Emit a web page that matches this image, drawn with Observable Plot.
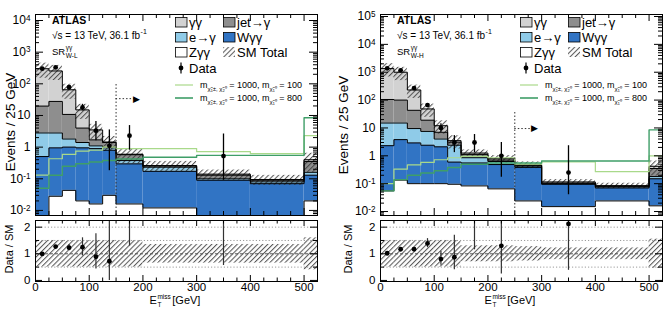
<!DOCTYPE html>
<html><head><meta charset="utf-8">
<script src="https://cdn.jsdelivr.net/npm/d3@7"></script>
<script src="https://cdn.jsdelivr.net/npm/@observablehq/plot@0.6"></script>
<style>
html,body{margin:0;padding:0;background:#fff;}
#root{position:relative;width:664px;height:312px;overflow:hidden;font-family:"Liberation Sans",Arial,Helvetica,sans-serif;}
</style></head><body>
<svg width="0" height="0" style="position:absolute;left:0;top:0">
<defs>
<pattern id="hatch" patternUnits="userSpaceOnUse" width="3.6" height="3.6" patternTransform="rotate(45)">
<line x1="0.6" y1="0" x2="0.6" y2="3.6" stroke="#3a3a3a" stroke-width="0.9"/>
</pattern>
</defs></svg>
<div id="root"></div>
<script>
// ---------------- DATA ----------------
// Left panel: SR W-L
const edgesL = [0,25,50,75,100,125,150,200,300,400,500,525];
const zggL = [0.004,0.028,0.043,0.02,0.016,0.03,0.016,0.012,0.004,0.004,0.02];
const wggL = [0.5,0.92,0.96,0.93,0.88,0.77,0.28,0.16,0.086,0.066,0.11];
const egL  = [2.3,1.85,0.8,0.45,0.2,0.15,0.08,0.06,0.01,0.01,0.03];
const jetL = [17,25,9,2.6,0.6,0.45,0.2,0.02,0.03,0.01,0.19];
const ggL  = [280,227,54,11,1.8,0.05,0.02,0.01,0.01,0.005,0.05];
const uncL = [0.5,0.5,0.5,0.5,0.5,0.5,0.5,0.35,0.35,0.35,0.6];
const sig100L = [0.13,0.43,0.59,0.75,0.8,1.0,0.9,0.9,0.72,0.62,2.3];
const sig800L = [0.05,0.13,0.25,0.3,0.34,0.38,0.42,0.48,0.55,0.55,8.5];
const dataXL  = [12.5,37.5,62.5,87.5,112.5,137.5,175,350];
const dataYL  = [300,330,78,18,3.3,1.1,2.3,0.52];
const dataLoL = [285,313,70,14,1.6,0.18,0.8,0.09];
const dataHiL = [316,347,87,22.5,6.5,3.5,4.8,2.6];
const ratioYL  = [1.0,1.27,1.23,1.25,0.89,0.72,3.5,3.7];
const ratioLoL = [0.96,1.23,1.11,0.92,0.43,0.0,1.29,0.56];
const ratioHiL = [1.04,1.31,1.35,1.6,1.75,2.5,8,15];

// Right panel: SR W-H
const edgesR = [0,25,50,75,100,125,150,200,250,300,400,500,525];
const zggR = [0.055,0.134,0.1,0.1,0.1,0.095,0.083,0.065,0.024,0.015,0.024,0.016];
const wggR = [2.25,3.67,2.8,2.3,2.0,0.5,0.47,0.42,0.36,0.08,0.046,0.134];
const egR  = [12.7,11.2,6.6,5.1,1.9,1.8,0.3,0.14,0.04,0.005,0.006,0.03];
const jetR = [90,85,33.5,11.5,3,0.7,0.25,0.08,0.03,0.005,0.004,0.17];
const ggR  = [1245,900,187,29,5,0.4,0.15,0.08,0.02,0.01,0.005,0.07];
const uncR = [0.5,0.5,0.5,0.5,0.5,0.5,0.3,0.3,0.27,0.22,0.22,0.55];
const sig100R = [0.1,0.33,0.47,0.58,0.72,0.85,0.95,0.85,0.5,0.6,0.27,1.0];
const sig800R = [0.055,0.14,0.2,0.24,0.29,0.38,0.5,0.55,0.55,0.65,0.65,8.5];
const dataXR  = [12.5,37.5,62.5,87.5,112.5,137.5,175,225,350];
const dataYR  = [1380,1170,270,66,10,3.0,3.0,1.0,0.25];
const dataLoR = [1340,1130,255,58,7,1.3,1.3,0.17,0.04];
const dataHiR = [1420,1210,285,74,14,5.3,5.8,3.0,2.3];
const ratioYR  = [1.02,1.17,1.17,1.39,0.8,0.87,2.4,1.3,2.12];
const ratioLoR = [1.0,1.14,1.12,1.23,0.57,0.4,1.15,0.24,0.38];
const ratioHiR = [1.04,1.2,1.22,1.57,1.1,1.7,5,3.5,8];

// Labels
const compLabels = ["Zγγ","Wγγ","e→γ","jet→γ","γγ"];
const xTickLabels = [0,100,200,300,400,500];
const ratioTickLabels = [0,1,2];
const regionL = "W-L", regionR = "W-H";

// ---------------- STYLE ----------------
const FF = '"Liberation Sans", Arial, Helvetica, sans-serif';
const C = {zgg:"#ffffff", wgg:"#3174c4", eg:"#8fcbe8", jet:"#8e8e8e", gg:"#d2d2d2", s100:"#a9d98a", s800:"#3f9e68"};
const root = document.getElementById("root");

function steps(edges, vals){ const p = vals.map((v,i)=>({x:edges[i], y:v})); p.push({x:edges[edges.length-1], y:vals[vals.length-1]}); return p; }
function place(svg, left, top){ svg.style.position="absolute"; svg.style.left=left+"px"; svg.style.top=top+"px"; root.appendChild(svg); }
function supify(svg){
  d3.select(svg).selectAll("text").each(function(){
    const s = this.textContent;
    if (this.children.length === 0 && s.includes("^")) {
      const [b,e] = s.split("^");
      const sel = d3.select(this); sel.text(b);
      sel.append("tspan").attr("dy","-0.45em").attr("font-size","0.68em").text(e);
    }
  });
}
const fmtPow = d => d===1 ? "1" : d===10 ? "10" : "10^" + Math.round(Math.log10(d));

function mainPanel(p){
  const W = 332, H = 216, mt = 14, mb = 1;
  const fw = W - p.ml - p.mr, fh = H - mt - mb;
  const n = p.edges.length - 1;
  const cum = new Array(n).fill(0);
  const comps = [{v:p.zgg,c:C.zgg},{v:p.wgg,c:C.wgg},{v:p.eg,c:C.eg},{v:p.jet,c:C.jet},{v:p.gg,c:C.gg}];
  const fills = [], lines = [];
  comps.forEach(cp => {
    const prev = cum.slice();
    cp.v.forEach((v,i)=>{cum[i]+=v;});
    const cur = cum.slice();
    fills.push(Plot.rect(cur.map((v,i)=>({x1:p.edges[i],x2:p.edges[i+1],y1:Math.max(prev[i],p.ymin*0.5),y2:v})),
      {x1:"x1",x2:"x2",y1:"y1",y2:"y2",fill:cp.c,clip:true}));
    lines.push(Plot.line(steps(p.edges,cur),{x:"x",y:"y",curve:"step-after",stroke:"black",strokeWidth:1,clip:true}));
  });
  const band = cum.map((t,i)=>({x1:p.edges[i],x2:p.edges[i+1],y1:t*(1-p.unc[i]),y2:t*(1+p.unc[i])}));
  const data = p.dx.map((x,i)=>({x, y:p.dy[i], lo:p.dlo[i], hi:p.dhi[i]}));
  const yMaj = [], yMin = [];
  for (let k=-3;k<=6;k++) for (let m=1;m<=9;m++){ const v=m*Math.pow(10,k); if (v>=p.ymin && v<=p.ymax) (m===1?yMaj:yMin).push(v); }
  const xMaj = [0,100,200,300,400,500], xMin = d3.range(25,525,25).filter(v=>v%100!==0);
  const svg = Plot.plot({
    width: W, height: H, marginLeft: p.ml, marginRight: p.mr, marginTop: mt, marginBottom: mb,
    style: {fontSize:"12px", fontFamily:FF, color:"black", background:"transparent", overflow:"visible"},
    x: {domain:[0,525], axis:null},
    y: {type:"log", domain:[p.ymin,p.ymax], ticks:yMaj, tickFormat:fmtPow, tickSize:0, tickPadding:5, label:null},
    marks: [
      ...fills,
      Plot.rect(band,{x1:"x1",x2:"x2",y1:"y1",y2:"y2",fill:"url(#hatch)",clip:true}),
      ...lines,
      Plot.line(steps(p.edges,p.s100),{x:"x",y:"y",curve:"step-after",stroke:C.s100,strokeWidth:1.2,clip:true}),
      Plot.line(steps(p.edges,p.s800),{x:"x",y:"y",curve:"step-after",stroke:C.s800,strokeWidth:1.4,clip:true}),
      Plot.ruleX([{x:p.cut,y1:p.ymin,y2:p.cutTop}],{x:"x",y1:"y1",y2:"y2",stroke:"#333",strokeWidth:1,strokeDasharray:"1.5,2"}),
      Plot.ruleY([{y:p.arrY,x1:p.cut,x2:p.arrEnd-4}],{y:"y",x1:"x1",x2:"x2",stroke:"#333",strokeWidth:1,strokeDasharray:"1.5,2"}),
      Plot.text([{x:p.arrEnd,y:p.arrY}],{x:"x",y:"y",text:()=>"▶",fontSize:9,fill:"black"}),
      Plot.ruleX(data,{x:"x",y1:"lo",y2:"hi",stroke:"black",strokeWidth:1.3,clip:true}),
      Plot.dot(data,{x:"x",y:"y",r:2.4,fill:"black",stroke:null,clip:true}),
      Plot.tickY(yMaj,{y:d=>d,insetRight:fw-8,stroke:"black"}),
      Plot.tickY(yMin,{y:d=>d,insetRight:fw-4,stroke:"black"}),
      Plot.tickY(yMaj,{y:d=>d,insetLeft:fw-8,stroke:"black"}),
      Plot.tickY(yMin,{y:d=>d,insetLeft:fw-4,stroke:"black"}),
      Plot.tickX(xMaj,{x:d=>d,insetTop:fh-7,stroke:"black"}),
      Plot.tickX(xMin,{x:d=>d,insetTop:fh-4,stroke:"black"}),
      Plot.tickX(xMaj,{x:d=>d,insetBottom:fh-7,stroke:"black"}),
      Plot.tickX(xMin,{x:d=>d,insetBottom:fh-4,stroke:"black"}),
      Plot.frame({stroke:"black"})
    ]
  });
  supify(svg);
  return svg;
}

function ratioPanel(p){
  const W = 332, H = 96, mt = 4, mb = 31;
  const fw = W - p.ml - p.mr, fh = H - mt - mb;
  const band = p.unc.map((u,i)=>({x1:p.edges[i],x2:p.edges[i+1],y1:1-u,y2:1+u}));
  const data = p.dx.map((x,i)=>({x, y:p.ry[i], lo:p.rlo[i], hi:p.rhi[i]}));
  const xMaj = [0,100,200,300,400,500], xMin = d3.range(25,525,25).filter(v=>v%100!==0);
  return Plot.plot({
    width: W, height: H, marginLeft: p.ml, marginRight: p.mr, marginTop: mt, marginBottom: mb,
    style: {fontSize:"11.5px", fontFamily:FF, color:"black", background:"transparent", overflow:"visible"},
    x: {domain:[0,525], ticks:xTickLabels, tickFormat:d=>String(d), tickSize:0, tickPadding:1, label:null},
    y: {domain:[-0.04,2.25], ticks:ratioTickLabels, tickFormat:d=>String(d), tickSize:0, tickPadding:5, label:null},
    marks: [
      Plot.rect(band,{x1:"x1",x2:"x2",y1:"y1",y2:"y2",fill:"url(#hatch)",clip:true}),
      Plot.ruleY([0.5,1.5,2],{stroke:"#9a9a9a",strokeDasharray:"1.2,2"}),
      Plot.ruleY([1],{stroke:"#555",strokeDasharray:"3,2"}),
      Plot.ruleX(data,{x:"x",y1:"lo",y2:"hi",stroke:"#333",strokeWidth:1.2,clip:true}),
      Plot.dot(data,{x:"x",y:"y",r:2.4,fill:"black",stroke:null,clip:true}),
      Plot.tickY([0,1,2],{y:d=>d,insetRight:fw-7,stroke:"black"}),
      Plot.tickY([0.5,1.5],{y:d=>d,insetRight:fw-4,stroke:"black"}),
      Plot.tickY([0,1,2],{y:d=>d,insetLeft:fw-7,stroke:"black"}),
      Plot.tickY([0.5,1.5],{y:d=>d,insetLeft:fw-4,stroke:"black"}),
      Plot.tickX(xMaj,{x:d=>d,insetTop:fh-6,stroke:"black"}),
      Plot.tickX(xMin,{x:d=>d,insetTop:fh-3.5,stroke:"black"}),
      Plot.tickX(xMaj,{x:d=>d,insetBottom:fh-6,stroke:"black"}),
      Plot.tickX(xMin,{x:d=>d,insetBottom:fh-3.5,stroke:"black"}),
      Plot.frame({stroke:"black"})
    ]
  });
}

const PL = {edges:edgesL,zgg:zggL,wgg:wggL,eg:egL,jet:jetL,gg:ggL,unc:uncL,s100:sig100L,s800:sig800L,
  dx:dataXL,dy:dataYL,dlo:dataLoL,dhi:dataHiL,ry:ratioYL,rlo:ratioLoL,rhi:ratioHiL,
  ymin:Math.pow(10,-2.16),ymax:Math.pow(10,4.19),cut:150,cutTop:110,arrY:34,arrEnd:188,ml:35,mr:15};
const PR = {edges:edgesR,zgg:zggR,wgg:wggR,eg:egR,jet:jetR,gg:ggR,unc:uncR,s100:sig100R,s800:sig800R,
  dx:dataXR,dy:dataYR,dlo:dataLoR,dhi:dataHiR,ry:ratioYR,rlo:ratioLoR,rhi:ratioHiR,
  ymin:Math.pow(10,-2.143),ymax:Math.pow(10,5.072),cut:250,cutTop:42,arrY:9.5,arrEnd:287,ml:48,mr:2};

place(mainPanel(PL),0,0);
place(ratioPanel(PL),0,216);
place(mainPanel(PR),332,0);
place(ratioPanel(PR),332,216);

// ---------------- OVERLAY TEXT / LEGEND ----------------
const ov = d3.select(root).append("svg").attr("width",664).attr("height",312)
  .style("position","absolute").style("left","0px").style("top","0px").attr("font-family",FF);
function T(x,y,s,size,attrs={}){ const t=ov.append("text").attr("x",x).attr("y",y).attr("font-size",size).text(s); for(const k in attrs) t.attr(k,attrs[k]); return t; }
const wid = t => t.node().getComputedTextLength();

const legendRows = [[{l:compLabels[4],c:C.gg},{l:compLabels[3],c:C.jet}],[{l:compLabels[2],c:C.eg},{l:compLabels[1],c:C.wgg}],[{l:compLabels[0],c:C.zgg},{l:"SM Total",c:"hatch"}]];

[{dx:0,reg:regionL,ev:[15,122],ds:[12.5,249],xt:175},{dx:345,reg:regionR,ev:[348,125],ds:[352,249],xt:510}].forEach(P=>{
  const x0 = 52+P.dx;
  T(x0,24,"ATLAS",10.5,{"font-weight":"bold"});
  const s = T(x0,38.5,"√s = 13 TeV, 36.1 fb",10);
  T(x0+wid(s)+0.5,34,"-1",7);
  const sr = T(x0,55,"SR",9.5);
  T(x0+wid(sr)+0.5,49.5,"γγ",6.5);
  T(x0+wid(sr)+0.5,58,P.reg,6.5);
  // legend
  legendRows.forEach((row,ri)=>{
    row.forEach((it,ci)=>{
      const sx = 175+P.dx+ci*48, sy = 17+ri*15;
      if (it.c==="hatch") ov.append("rect").attr("x",sx).attr("y",sy).attr("width",12).attr("height",10).attr("fill","url(#hatch)");
      else ov.append("rect").attr("x",sx+0.5).attr("y",sy+0.5).attr("width",11.5).attr("height",9.5).attr("fill",it.c).attr("stroke","black").attr("stroke-width",0.8);
      T(sx+14,sy+10,it.l,13);
    });
  });
  ov.append("line").attr("x1",181+P.dx).attr("x2",181+P.dx).attr("y1",62.5).attr("y2",73.5).attr("stroke","black").attr("stroke-width",1.2);
  ov.append("circle").attr("cx",181+P.dx).attr("cy",68).attr("r",2.4).attr("fill","black");
  T(189+P.dx,72.5,"Data",13);
  [[85,C.s100,1.2,"100"],[98,C.s800,1.6,"800"]].forEach(([y,col,sw,m])=>{
    ov.append("line").attr("x1",175+P.dx).attr("x2",193+P.dx).attr("y1",y).attr("y2",y).attr("stroke",col).attr("stroke-width",sw);
    const t = T(200+P.dx,y+3,"m",9);
    t.append("tspan").attr("dy",2.5).attr("font-size",6).text("χ̃₁±, χ̃₂⁰");
    t.append("tspan").attr("dy",-2.5).text(" = 1000, m");
    t.append("tspan").attr("dy",2.5).attr("font-size",6).text("χ̃₁⁰");
    t.append("tspan").attr("dy",-2.5).text(" = " + m);
  });
  // axis titles
  T(P.ev[0],P.ev[1],"Events / 25 GeV",13.5,{"text-anchor":"middle",transform:`rotate(-90,${P.ev[0]},${P.ev[1]})`});
  T(P.ds[0],P.ds[1],"Data / SM",11,{"text-anchor":"middle",transform:`rotate(-90,${P.ds[0]},${P.ds[1]})`});
  // E_T^miss [GeV]
  const g = ov.append("g");
  const e = g.append("text").attr("x",0).attr("y",304).attr("font-size",11).text("E");
  const we = wid(e);
  const sup = g.append("text").attr("x",we+0.5).attr("y",298.5).attr("font-size",6.5).text("miss");
  g.append("text").attr("x",we+0.5).attr("y",307).attr("font-size",6.5).text("T");
  const ws = wid(sup);
  const rest = g.append("text").attr("x",we+ws+2).attr("y",304).attr("font-size",11).text(" [GeV]");
  const total = we+ws+2+wid(rest);
  g.attr("transform",`translate(${P.xt-total/2},0)`);
});
</script>
</body></html>
